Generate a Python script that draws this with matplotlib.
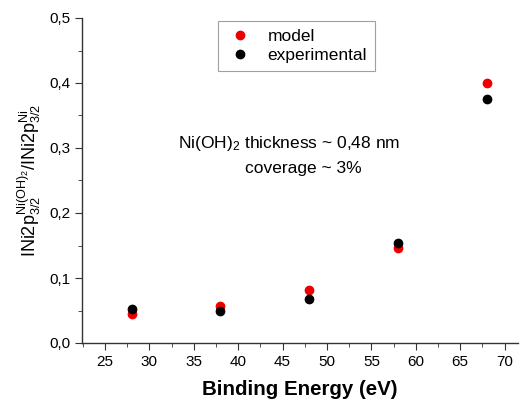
import matplotlib.pyplot as plt
from matplotlib.ticker import MultipleLocator, FuncFormatter

plt.rcParams["font.family"] = ["Liberation Sans", "DejaVu Sans"]
plt.rcParams["mathtext.fontset"] = "custom"
plt.rcParams["mathtext.rm"] = "Liberation Sans"
plt.rcParams["mathtext.it"] = "Liberation Sans:italic"
plt.rcParams["mathtext.bf"] = "Liberation Sans:bold"

# Data
binding_energy = [28, 38, 48, 58, 68]
model = [0.044, 0.057, 0.082, 0.146, 0.400]
experimental = [0.052, 0.049, 0.068, 0.154, 0.375]

fig = plt.figure(figsize=(5.22, 4.0), dpi=100)
ax = fig.add_axes([0.157, 0.1425, 0.835, 0.8125])

ax.plot(binding_energy, model, "o", color="#ee0000", markersize=6, label="model")
ax.plot(binding_energy, experimental, "o", color="black", markersize=6,
        label="experimental")

ax.set_xlim(22.4, 71.5)
ax.set_ylim(0, 0.5)
ax.xaxis.set_major_locator(MultipleLocator(5))
ax.xaxis.set_minor_locator(MultipleLocator(2.5))
ax.yaxis.set_major_locator(MultipleLocator(0.1))
ax.yaxis.set_minor_locator(MultipleLocator(0.05))
ax.yaxis.set_major_formatter(FuncFormatter(lambda v, p: f"{v:.1f}".replace(".", ",")))

for s in ["top", "right"]:
    ax.spines[s].set_visible(False)
for s in ["left", "bottom"]:
    ax.spines[s].set_color("#333333")
    ax.spines[s].set_linewidth(1.0)
ax.tick_params(which="major", direction="out", length=5, labelsize=11, colors="#333333")
ax.tick_params(which="minor", direction="out", length=3, colors="#333333")
ax.tick_params(labelcolor="black")

ax.set_xlabel("Binding Energy (eV)", fontsize=14.8, fontweight="bold", labelpad=8)
ax.set_ylabel(r"$\mathrm{INi2p}_{3/2}^{\mathrm{Ni(OH)}_2}/\mathrm{INi2p}_{3/2}^{\mathrm{Ni}}$",
              fontsize=13, labelpad=4)

# Annotation
ax.text(0.22, 0.614, r"Ni(OH)$_2$ thickness ~ 0,48 nm", transform=ax.transAxes,
        ha="left", va="center", fontsize=12.5)
ax.text(0.375, 0.537, "coverage ~ 3%", transform=ax.transAxes,
        ha="left", va="center", fontsize=12.5)

leg = ax.legend(loc="upper left", bbox_to_anchor=(0.312, 0.99), borderaxespad=0,
                fontsize=12.5, frameon=True, fancybox=False, edgecolor="#888888",
                handletextpad=0.8, borderpad=0.45, labelspacing=0.2,
                handlelength=1.6)
leg.get_frame().set_linewidth(0.8)

fig.savefig("out.png", dpi=100)
